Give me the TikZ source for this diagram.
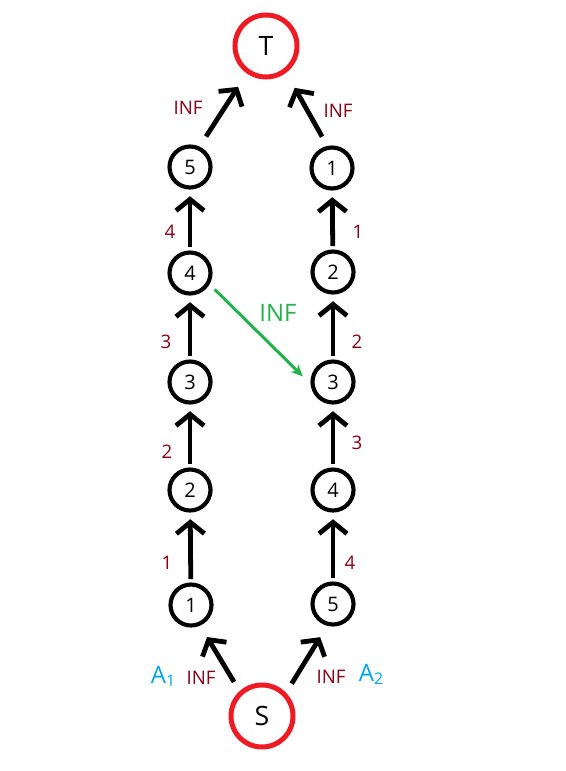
\documentclass[tikz,border=0pt]{standalone}
\usepackage{fontspec}
\setmainfont{Open Sans}
\usetikzlibrary{arrows.meta}
\definecolor{pred}{HTML}{ED1C24}
\definecolor{lred}{HTML}{880015}
\definecolor{pblue}{HTML}{00A2E8}
\definecolor{pgreen}{HTML}{22B14C}
\newcommand{\subdig}[1]{\raisebox{-0.12em}{\fontsize{12}{12}\selectfont #1}}
\begin{document}
\begin{tikzpicture}[x=0.75pt,y=-0.75pt,
 vnode/.style={circle,draw,line width=3.1pt,minimum size=30.75pt,inner sep=0pt,font=\fontsize{15}{15}\selectfont},
 term/.style={circle,draw=pred,line width=3.75pt,minimum size=46.5pt,inner sep=0pt,font=\fontsize{20}{20}\selectfont},
 arr/.style={line width=3.6pt,-{Straight Barb[length=8.5pt,width=21pt]}},
 varr/.style={arr,shorten <=2.5pt,shorten >=5pt},
 lab/.style={text=lred,font=\fontsize{14}{14}\selectfont,inner sep=0pt},
 alab/.style={text=pblue,font=\fontsize{18}{18}\selectfont,inner sep=0pt}]
\useasboundingbox (0,0) rectangle (566,771);
% terminals
\node[term] (T) at (266,46) {T};
\node[term] (S) at (262,716) {S};
% left chain
\node[vnode] (l5) at (190,167) {5};
\node[vnode] (l4) at (190,273) {4};
\node[vnode] (l3) at (190,382) {3};
\node[vnode] (l2) at (190,490) {2};
\node[vnode] (l1) at (191,605) {1};
% right chain
\node[vnode] (r1) at (332,168) {1};
\node[vnode] (r2) at (333,272) {2};
\node[vnode] (r3) at (333,382) {3};
\node[vnode] (r4) at (333,490) {4};
\node[vnode] (r5) at (333,604) {5};
% vertical arrows
\draw[varr] (l1) -- (l2);
\draw[varr] (l2) -- (l3);
\draw[varr] (l3) -- (l4);
\draw[varr] (l4) -- (l5);
\draw[varr] (r5) -- (r4);
\draw[varr] (r4) -- (r3);
\draw[varr] (r3) -- (r2);
\draw[varr] (r2) -- (r1);
% top arrows
\draw[arr,shorten <=9pt,shorten >=12pt] (l5.65) -- (T.235);
\draw[arr,shorten <=8pt,shorten >=13pt] (r1.102) -- (T.307);
% bottom arrows
\draw[arr,shorten <=8pt,shorten >=10pt] (S.132) -- (l1.294);
\draw[arr,shorten <=8pt,shorten >=10pt] (S.44) -- (r5.255);
% green arrow
\draw[pgreen,line width=2.25pt,-{Stealth[length=9pt,width=8pt]},shorten <=5.5pt,shorten >=8pt] (l4.330) -- (r3.185);
\node[text=pgreen,font=\fontsize{18}{18}\selectfont,inner sep=0pt] (ginf) at (278,313) {INF};
% edge labels
\node[lab] (e1) at (170,232) {4};
\node[lab] (e2) at (166,342) {3};
\node[lab] (e3) at (167,452) {2};
\node[lab] (e4) at (167,563) {1};
\node[lab] (e5) at (358,232) {1};
\node[lab] (e6) at (357,342) {2};
\node[lab] (e7) at (357,443) {3};
\node[lab] (e8) at (350,563) {4};
\node[lab] (i1) at (188,108) {INF};
\node[lab] (i2) at (338,111) {INF};
\node[lab] (i3) at (201,678) {INF};
\node[lab] (i4) at (331,677) {INF};
\node[alab] (a1) at (163,676) {A\subdig{1}};
\node[alab] (a2) at (371,674) {A\subdig{2}};
\end{tikzpicture}
\end{document}
